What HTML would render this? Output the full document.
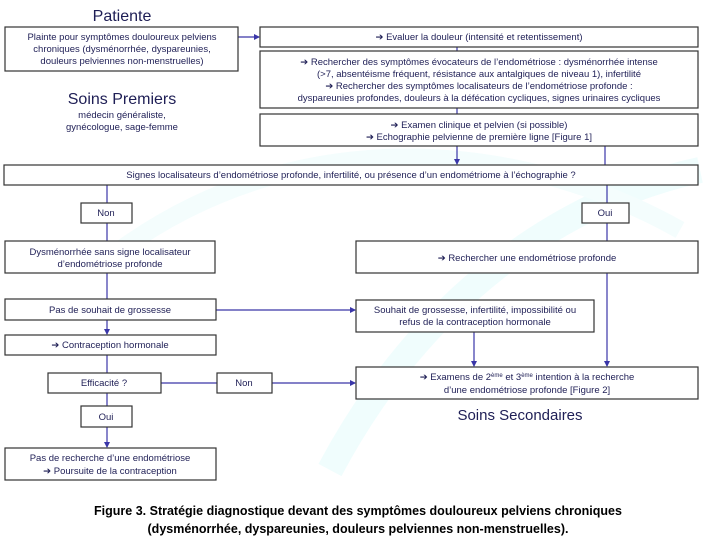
<!DOCTYPE html>
<html><head><meta charset="utf-8"><style>
html,body{margin:0;padding:0;background:#fff;}
svg{display:block;font-family:"Liberation Sans",Arial,sans-serif;}
.b{fill:#fff;stroke:#333;stroke-width:1.2;}
.t{fill:#1e1e55;font-size:9.5px;text-anchor:middle;}
.l{stroke:#3a36a8;stroke-width:1.2;fill:none;}
</style></head><body>
<svg width="706" height="545" viewBox="0 0 706 545">
<defs><marker id="a" markerWidth="6" markerHeight="6" refX="5" refY="3" orient="auto" markerUnits="userSpaceOnUse"><path d="M0,0 L6,3 L0,6 z" fill="#3a36a8"/></marker></defs>
<!-- watermark -->
<path d="M330,470 C420,300 560,200 700,170" stroke="#f0fdfd" stroke-width="26" fill="none"/>
<path d="M120,250 C300,120 520,140 680,230" stroke="#f4fdfd" stroke-width="18" fill="none"/>

<!-- connectors -->
<line class="l" x1="238" y1="37" x2="259" y2="37" marker-end="url(#a)"/>
<line class="l" x1="457" y1="47" x2="457" y2="51"/>
<line class="l" x1="457" y1="108" x2="457" y2="114"/>
<line class="l" x1="457" y1="146" x2="457" y2="164" marker-end="url(#a)"/>
<line class="l" x1="605" y1="146" x2="605" y2="165"/>
<line class="l" x1="107" y1="185" x2="107" y2="203"/>
<line class="l" x1="107" y1="223" x2="107" y2="241"/>
<line class="l" x1="107" y1="273" x2="107" y2="299"/>
<line class="l" x1="107" y1="320" x2="107" y2="334" marker-end="url(#a)"/>
<line class="l" x1="107" y1="355" x2="107" y2="373"/>
<line class="l" x1="107" y1="393" x2="107" y2="406"/>
<line class="l" x1="107" y1="427" x2="107" y2="447" marker-end="url(#a)"/>
<line class="l" x1="216" y1="310" x2="355" y2="310" marker-end="url(#a)"/>
<line class="l" x1="161" y1="383" x2="217" y2="383"/>
<line class="l" x1="272" y1="383" x2="355" y2="383" marker-end="url(#a)"/>
<line class="l" x1="607" y1="185" x2="607" y2="203"/>
<line class="l" x1="607" y1="223" x2="607" y2="241"/>
<line class="l" x1="607" y1="273" x2="607" y2="366" marker-end="url(#a)"/>
<line class="l" x1="474" y1="332" x2="474" y2="366" marker-end="url(#a)"/>

<!-- titles -->
<text x="122" y="21" style="font-size:16px;fill:#1e1e55;text-anchor:middle">Patiente</text>
<text x="122" y="104" style="font-size:16px;fill:#1e1e55;text-anchor:middle">Soins Premiers</text>
<text class="t" x="122" y="118">médecin généraliste,</text>
<text class="t" x="122" y="130">gynécologue, sage-femme</text>
<text x="520" y="420" style="font-size:15px;fill:#1e1e55;text-anchor:middle">Soins Secondaires</text>

<!-- boxes -->
<rect class="b" x="5" y="27" width="233" height="44"/>
<text class="t" x="122" y="40">Plainte pour symptômes douloureux pelviens</text>
<text class="t" x="122" y="52">chroniques (dysménorrhée, dyspareunies,</text>
<text class="t" x="122" y="64">douleurs pelviennes non-menstruelles)</text>

<rect class="b" x="260" y="27" width="438" height="20"/>
<text class="t" x="479" y="40">➔ Evaluer la douleur (intensité et retentissement)</text>

<rect class="b" x="260" y="51" width="438" height="57"/>
<text class="t" x="479" y="65">➔ Rechercher des symptômes évocateurs de l’endométriose : dysménorrhée intense</text>
<text class="t" x="479" y="77">(&gt;7, absentéisme fréquent, résistance aux antalgiques de niveau 1), infertilité</text>
<text class="t" x="479" y="89">➔ Rechercher des symptômes localisateurs de l’endométriose profonde :</text>
<text class="t" x="479" y="101">dyspareunies profondes, douleurs à la défécation cycliques, signes urinaires cycliques</text>

<rect class="b" x="260" y="114" width="438" height="32"/>
<text class="t" x="479" y="128">➔ Examen clinique et pelvien (si possible)</text>
<text class="t" x="479" y="140">➔ Echographie pelvienne de première ligne [Figure 1]</text>

<rect class="b" x="4" y="165" width="694" height="20"/>
<text class="t" x="351" y="178">Signes localisateurs d’endométriose profonde, infertilité, ou présence d’un endométriome à l’échographie ?</text>

<rect class="b" x="81" y="203" width="51" height="20"/>
<text class="t" x="106" y="216">Non</text>
<rect class="b" x="582" y="203" width="47" height="20"/>
<text class="t" x="605" y="216">Oui</text>

<rect class="b" x="5" y="241" width="210" height="32"/>
<text class="t" x="110" y="255">Dysménorrhée sans signe localisateur</text>
<text class="t" x="110" y="267">d’endométriose profonde</text>

<rect class="b" x="356" y="241" width="342" height="32"/>
<text class="t" x="527" y="261">➔ Rechercher une endométriose profonde</text>

<rect class="b" x="5" y="299" width="211" height="21"/>
<text class="t" x="110" y="313">Pas de souhait de grossesse</text>

<rect class="b" x="356" y="300" width="238" height="32"/>
<text class="t" x="475" y="313">Souhait de grossesse, infertilité, impossibilité ou</text>
<text class="t" x="475" y="325">refus de la contraception hormonale</text>

<rect class="b" x="5" y="335" width="211" height="20"/>
<text class="t" x="110" y="348">➔ Contraception hormonale</text>

<rect class="b" x="48" y="373" width="113" height="20"/>
<text class="t" x="104" y="386">Efficacité ?</text>
<rect class="b" x="217" y="373" width="55" height="20"/>
<text class="t" x="244" y="386">Non</text>

<rect class="b" x="356" y="367" width="342" height="32"/>
<text class="t" x="527" y="380">➔ Examens de 2<tspan dy="-3" style="font-size:6px">ème</tspan><tspan dy="3"> et 3</tspan><tspan dy="-3" style="font-size:6px">ème</tspan><tspan dy="3"> intention à la recherche</tspan></text>
<text class="t" x="527" y="393">d’une endométriose profonde [Figure 2]</text>

<rect class="b" x="81" y="406" width="51" height="21"/>
<text class="t" x="106" y="420">Oui</text>

<rect class="b" x="5" y="448" width="211" height="32"/>
<text class="t" x="110" y="461">Pas de recherche d’une endométriose</text>
<text class="t" x="110" y="474">➔ Poursuite de la contraception</text>

<text x="358" y="515" style="font-size:12.5px;font-weight:bold;fill:#000;text-anchor:middle">Figure 3. Stratégie diagnostique devant des symptômes douloureux pelviens chroniques</text>
<text x="358" y="533" style="font-size:12.5px;font-weight:bold;fill:#000;text-anchor:middle">(dysménorrhée, dyspareunies, douleurs pelviennes non-menstruelles).</text>
</svg>
</body></html>
